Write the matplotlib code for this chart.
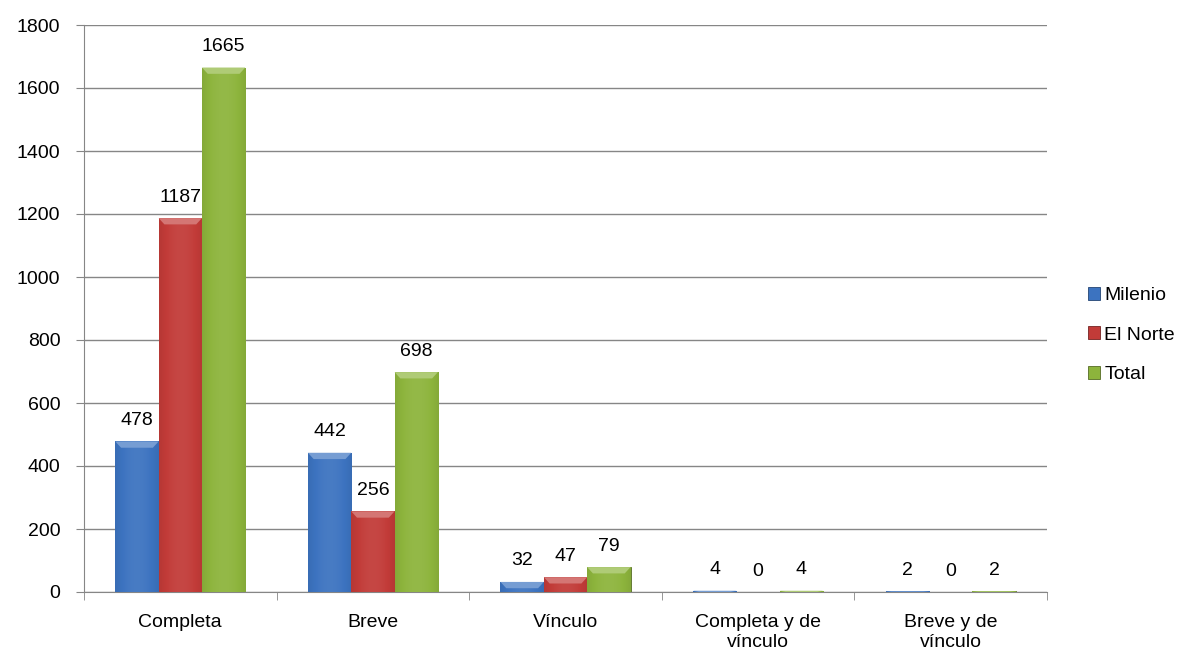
import matplotlib
matplotlib.use("Agg")
import matplotlib.pyplot as plt
import numpy as np
from matplotlib.patches import Polygon
from matplotlib.colors import to_rgb

categories = ["Completa", "Breve", "Vínculo", "Completa y de\nvínculo", "Breve y de\nvínculo"]
series_names = ["Milenio", "El Norte", "Total"]
milenio = [478, 442, 32, 4, 2]
el_norte = [1187, 256, 47, 0, 0]
total = [1665, 698, 79, 4, 2]
yticks = [0, 200, 400, 600, 800, 1000, 1200, 1400, 1600, 1800]

colors = ["#3c73c0", "#c23b38", "#8db43c"]
FS = 14

plt.rcParams['font.family'] = ['Liberation Sans', 'DejaVu Sans']
fig = plt.figure(figsize=(11.94, 6.56), dpi=100)
ax = fig.add_axes([84/1194, 1-592/656, (1047-84)/1194, (592-25)/656])

x = np.arange(len(categories))
w = 0.225
data = [milenio, el_norte, total]

def shade(c, f):
    r = np.array(to_rgb(c))
    if f > 0:
        return tuple(r + (1 - r) * f)
    return tuple(r * (1 + f))

for i, (vals, c) in enumerate(zip(data, colors)):
    offs = (i - 1) * w
    bars = ax.bar(x + offs, vals, w, color=c, edgecolor=shade(c, -0.4), linewidth=0.6,
                  label=series_names[i], zorder=3)
    for b, v in zip(bars, vals):
        if v > 0:
            grad = np.linspace(0, 1, 64)
            prof = 0.12 * np.sin(np.pi * grad) - 0.06
            img = np.zeros((1, 64, 3))
            for k in range(64):
                img[0, k] = shade(c, prof[k])
            im = ax.imshow(img, extent=[b.get_x(), b.get_x() + w, 0, v], aspect='auto',
                           zorder=3.5, interpolation='bilinear')
            im.set_clip_path(b)
            bh = min(v, 20)
            x0, x1 = b.get_x(), b.get_x() + w
            ax.add_patch(Polygon([(x0, v), (x1, v), (x1 - 0.03, v - bh), (x0 + 0.03, v - bh)],
                                 closed=True, facecolor=shade(c, 0.3), edgecolor='none', zorder=3.6))
        ax.annotate(str(v), (b.get_x() + w / 2, v), xytext=(0, 9), textcoords='offset points',
                    ha='center', va='bottom', fontsize=FS, zorder=5)

ax.set_xlim(-0.5, len(categories) - 0.5)
ax.set_ylim(0, 1800)
ax.set_yticks(yticks)
ax.set_yticklabels([str(t) for t in yticks], fontsize=FS)
ax.set_xticks(x)
ax.set_xticklabels(categories, fontsize=FS, linespacing=1.25)
ax.set_xticks(np.arange(-0.5, len(categories) + 0.5, 1), minor=True)
ax.tick_params(axis='x', which='major', length=0, pad=16)
ax.tick_params(axis='x', which='minor', length=6, color='#868686', direction='out')
ax.tick_params(axis='y', length=6, color='#868686', direction='out', pad=11)
ax.grid(axis='y', color='#868686', linewidth=1, zorder=0)
for s in ['top', 'right']:
    ax.spines[s].set_visible(False)
for s in ['left', 'bottom']:
    ax.spines[s].set_color('#868686')
ax.set_axisbelow(True)

leg = ax.legend(loc='center left', bbox_to_anchor=(1080/963 - 84/963, 1 - (335 - 25) / 567), frameon=False,
                fontsize=FS, handlelength=0.65, handleheight=0.65, handletextpad=0.2,
                labelspacing=1.15, borderaxespad=0)
fig.savefig("out.png", dpi=100)
